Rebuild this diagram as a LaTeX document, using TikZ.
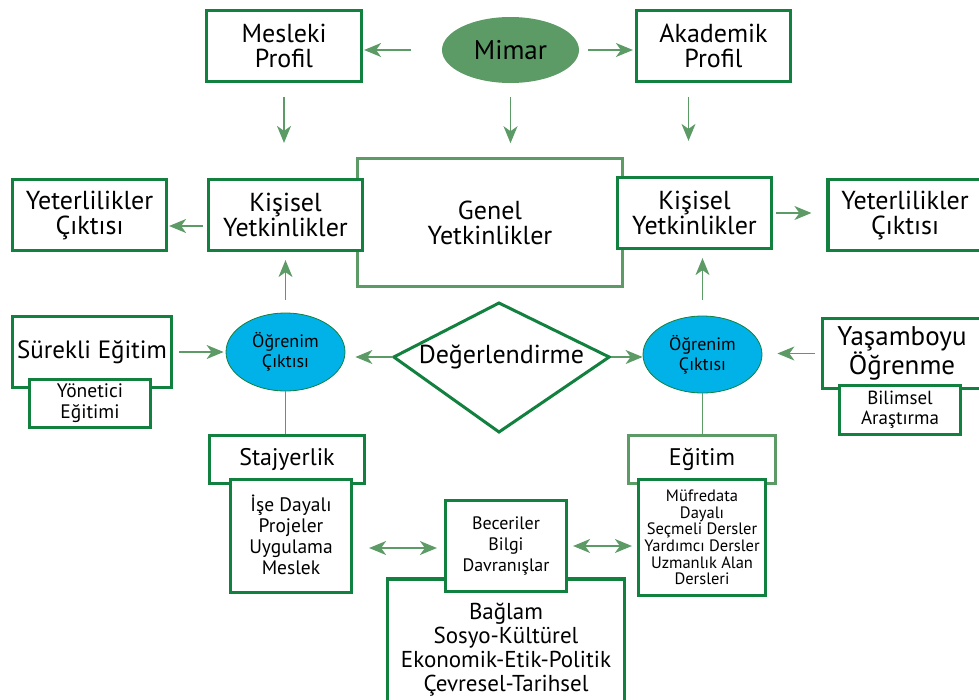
\documentclass[tikz,border=0pt]{standalone}
\usepackage{fontspec}
\setmainfont{PT Sans}
\usepackage{tikz}
\usetikzlibrary{arrows.meta,shapes.geometric}

\definecolor{dgreen}{RGB}{18,128,62}
\definecolor{lgreen}{RGB}{92,154,102}
\definecolor{oval}{RGB}{0,178,232}

\begin{document}
\begin{tikzpicture}[x=1pt, y=-1pt,
    box/.style={draw=dgreen, line width=3.2pt, fill=white, align=center, inner sep=0pt},
    softbox/.style={draw=lgreen, line width=2.6pt, fill=white, align=center, inner sep=0pt},
    big/.style={font=\fontsize{26}{25}\selectfont},
    mid/.style={font=\fontsize{19.5}{21}\selectfont},
    small/.style={font=\fontsize{16.5}{16.7}\selectfont},
    arr/.style={draw=lgreen, line width=1.2pt, -{Stealth[length=17pt,width=14pt,inset=5pt]}},
    darr/.style={draw=lgreen, line width=1.2pt, {Stealth[length=17pt,width=14pt,inset=5pt]}-{Stealth[length=17pt,width=14pt,inset=5pt]}},
    conn/.style={draw=lgreen, line width=1.2pt}]
        \useasboundingbox (0,0) rectangle (979,699);
        \clip (0,0) rectangle (979,699);

        \node[box, big, minimum width=155pt, minimum height=71pt] (mesleki) at (284,46) {Mesleki\\Profil};
        \node[ellipse, fill=lgreen, font=\fontsize{27}{25}\selectfont, minimum width=137pt, minimum height=66pt] (mimar) at (510.5,50) {Mimar};
        \node[box, big, minimum width=154pt, minimum height=71pt] (akademik) at (713.5,46) {Akademik\\Profil};

        \node[softbox, big, minimum width=265pt, minimum height=128pt] (genel) at (490,222.5) {Genel\\Yetkinlikler};
        \node[box, big, minimum width=154pt, minimum height=71pt] (kisL) at (285.5,215) {Kişisel\\Yetkinlikler};
        \node[box, big, minimum width=154pt, minimum height=71pt] (kisR) at (694.5,213) {Kişisel\\Yetkinlikler};
        \node[box, big, minimum width=154pt, minimum height=71pt] (yetL) at (89.5,215) {Yeterlilikler\\Çıktısı};
        \node[box, big, minimum width=154pt, minimum height=71pt] (yetR) at (905,215) {Yeterlilikler\\Çıktısı};

        \node[box, font=\fontsize{25}{25}\selectfont, minimum width=159pt, minimum height=71pt] (surekli) at (92,352) {Sürekli Eğitim};
        \node[box, mid, minimum width=121pt, minimum height=48pt] (yonetici) at (90,403.5) {Yönetici\\Eğitimi};
        \node[ellipse, draw=dgreen, line width=0.8pt, fill=oval, font=\fontsize{18}{20}\selectfont, align=center, minimum width=119pt, minimum height=78pt] (ogrL) at (285.5,352) {Öğrenim\\Çıktısı};
        \node[diamond, aspect=1.67, big, inner sep=0pt, minimum width=215pt, minimum height=129pt] (deger) at (501.5,357) {Değerlendirme};
        \coordinate (dtop) at (499,303);
        \coordinate (dbot) at (499,432);
        \draw[draw=dgreen, line width=3pt] (deger.west) -- (dtop) -- (deger.east) -- (dbot) -- cycle;
        \node[ellipse, draw=dgreen, line width=0.8pt, fill=oval, font=\fontsize{18}{20}\selectfont, align=center, minimum width=119pt, minimum height=77pt] (ogrR) at (702.5,354.5) {Öğrenim\\Çıktısı};
        \node[box, font=\fontsize{27}{21}\selectfont, minimum width=159pt, minimum height=70pt] (yasam) at (902,353.5) {Yaşamboyu\\Öğrenme};
        \node[box, font=\fontsize{19}{20}\selectfont, minimum width=121pt, minimum height=49pt] (bilimsel) at (900,410) {Bilimsel\\Araştırma};

        \node[box, font=\fontsize{24}{25}\selectfont, minimum width=155pt, minimum height=48pt] (stajyer) at (287,459.5) {Stajyerlik};
        \node[box, mid, minimum width=121pt, minimum height=113pt] (ise) at (291,536) {\\[-6pt]İşe Dayalı\\Projeler\\Uygulama\\Meslek};
        \node[softbox, font=\fontsize{24}{25}\selectfont, minimum width=147pt, minimum height=48pt] (egitim) at (702,459.5) {Eğitim};
        \node[box, small, minimum width=127pt, minimum height=116pt] (mufr) at (702,537.5) {Müfredata\\Dayalı\\Seçmeli Dersler\\Yardımcı Dersler\\Uzmanlık Alan\\Dersleri};

        \node[box, font=\fontsize{23}{24}\selectfont, minimum width=237pt, minimum height=142pt] (baglam) at (506,650) {Bağlam\\Sosyo-Kültürel\\Ekonomik-Etik-Politik\\Çevresel-Tarihsel};
        \node[box, font=\fontsize{18}{21}\selectfont, minimum width=121pt, minimum height=91pt] (bec) at (506,546) {Beceriler\\Bilgi\\Davranışlar};

        \draw[arr, shorten <=31pt, shorten >=1pt] (mimar.west) -- (mimar.west -| mesleki.east);
        \draw[arr, shorten <=9pt, shorten >=2pt] (mimar.east) -- (mimar.east -| akademik.west);
        \draw[arr, shorten <=14pt, shorten >=35pt] (mesleki.south) -- (mesleki.south |- kisL.north);
        \draw[arr, shorten <=14pt, shorten >=14pt] (mimar.south) -- (mimar.south |- genel.north);
        \draw[arr, shorten <=14pt, shorten >=35pt] ([xshift=-25pt]akademik.south) -- ([xshift=-25pt]akademik.south |- kisR.north);
        \draw[arr, shorten <=4pt, shorten >=1pt] ([yshift=-11pt]kisL.west) -- ([yshift=-11pt]kisL.west -| yetL.east);
        \draw[arr, shorten <=3pt, shorten >=15pt] (kisR.east) -- (kisR.east -| yetR.west);
        \draw[arr, shorten <=13pt, shorten >=8pt] (ogrL.north) -- (ogrL.north |- kisL.south);
        \draw[arr, shorten <=16pt, shorten >=8pt] (ogrR.north) -- (ogrR.north |- kisR.south);
        \draw[arr, shorten <=6pt, shorten >=2pt] (surekli.east) -- (surekli.east -| ogrL.west);
        \draw[arr, shorten <=1pt, shorten >=10pt] (deger.west) -- (deger.west -| ogrL.east);
        \draw[arr, shorten <=2pt] (deger.east) -- (deger.east -| ogrR.west);
        \draw[arr, shorten <=6pt, shorten >=15pt] (yasam.west) -- (yasam.west -| ogrR.east);
        \draw[conn] (ogrL.south) -- (ogrL.south |- stajyer.north);
        \draw[conn] (ogrR.south) -- (ogrR.south |- egitim.north);
        \draw[darr, shorten <=16pt, shorten >=7pt] ([yshift=-12pt]ise.east) -- ([yshift=-12pt]ise.east -| bec.west);
        \draw[darr, shorten <=5pt, shorten >=5pt] (bec.east) -- (bec.east -| mufr.west);
      \end{tikzpicture}
\end{document}
